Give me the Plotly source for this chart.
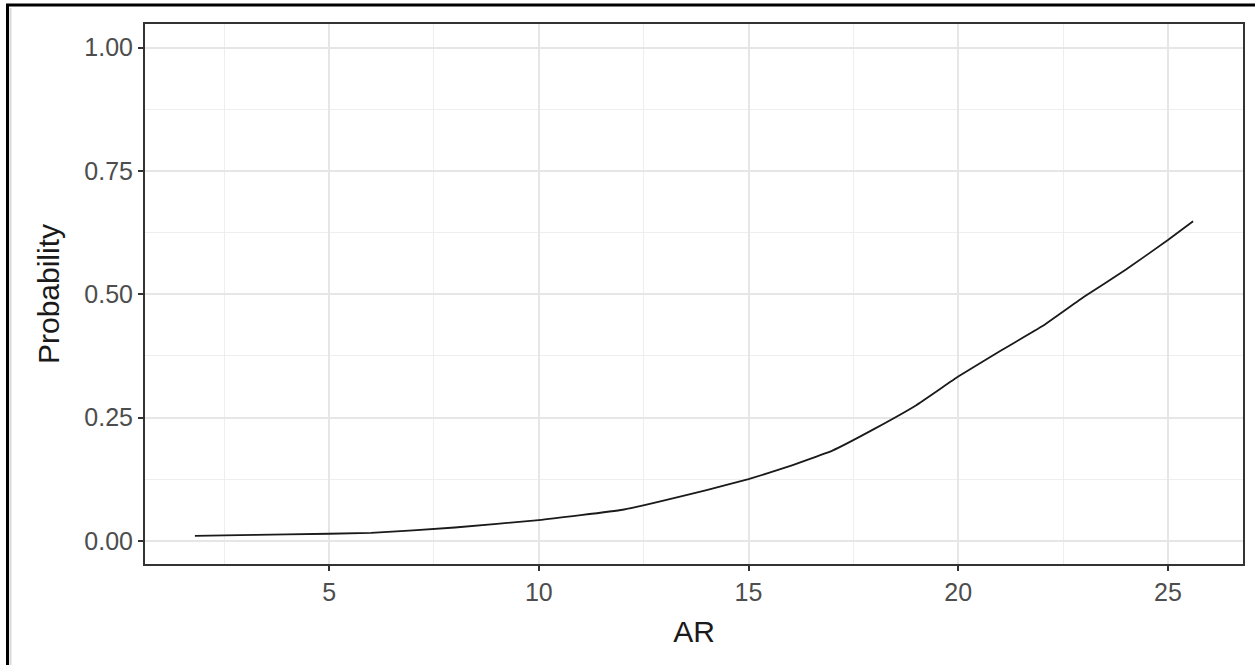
import plotly.graph_objects as go

ar_values = [1.8, 2.5, 4, 6, 8, 10, 12, 14, 15, 16, 17, 18, 19, 20, 21, 22, 23, 24, 25, 25.6]
probability = [0.010, 0.011, 0.013, 0.016, 0.027, 0.042, 0.063, 0.103, 0.125, 0.152,
               0.183, 0.227, 0.275, 0.333, 0.385, 0.435, 0.495, 0.550, 0.610, 0.648]

x_ticks = [5, 10, 15, 20, 25]
y_ticks = [0.00, 0.25, 0.50, 0.75, 1.00]
y_tick_labels = ["0.00", "0.25", "0.50", "0.75", "1.00"]

W, H = 1255, 665
L, R, T, B = 145, 12, 24, 101

fig = go.Figure()
fig.add_trace(go.Scatter(x=ar_values, y=probability, mode="lines",
                         line=dict(color="#1A1A1A", width=1.8, shape="spline", smoothing=0.3),
                         showlegend=False, hoverinfo="skip"))

font_family = "Liberation Sans, Arial, sans-serif"
axis_common = dict(showline=True, linecolor="#333333", linewidth=2, mirror=True,
                   ticks="outside", ticklen=5, tickwidth=1.5, tickcolor="#333333",
                   showgrid=True, gridcolor="#E6E6E6", gridwidth=1.5,
                   zeroline=False,
                   tickfont=dict(family=font_family, size=25, color="#4D4D4D"),
                   title_font=dict(family=font_family, size=30, color="#1A1A1A"))

fig.update_layout(
    width=W, height=H,
    margin=dict(l=L, r=R, t=T, b=B, autoexpand=False),
    paper_bgcolor="white", plot_bgcolor="white",
    xaxis=dict(range=[0.61, 26.79], tickvals=x_ticks, title=dict(text="AR", standoff=16),
               minor=dict(showgrid=True, gridcolor="#EEEEEE", gridwidth=1.2, dtick=2.5, tick0=2.5),
               **axis_common),
    yaxis=dict(range=[-0.047, 1.048], tickvals=y_ticks, ticktext=y_tick_labels,
               title=dict(text="Probability", standoff=16),
               minor=dict(showgrid=True, gridcolor="#EEEEEE", gridwidth=1.2, dtick=0.125, tick0=0.125),
               **axis_common),
)

pw = W - L - R
ph = H - T - B
def px_x(p):
    return (p - L) / pw
def px_y(p):
    return 1 - (p - T) / ph

# outer frame (top and left edges of the cropped screenshot)
fig.add_shape(type="line", xref="paper", yref="paper",
              x0=px_x(6), x1=px_x(W + 5), y0=px_y(5), y1=px_y(5),
              line=dict(color="black", width=3))
fig.add_shape(type="line", xref="paper", yref="paper",
              x0=px_x(7.5), x1=px_x(7.5), y0=px_y(4), y1=px_y(H + 5),
              line=dict(color="black", width=3))
fig.add_shape(type="line", xref="paper", yref="paper",
              x0=px_x(10.5), x1=px_x(10.5), y0=px_y(8), y1=px_y(H + 5),
              line=dict(color="#D9D9D9", width=2))

fig.write_html("out.html", config={"displayModeBar": False},
               post_script="document.body.style.margin='0';document.body.style.overflow='hidden';")
